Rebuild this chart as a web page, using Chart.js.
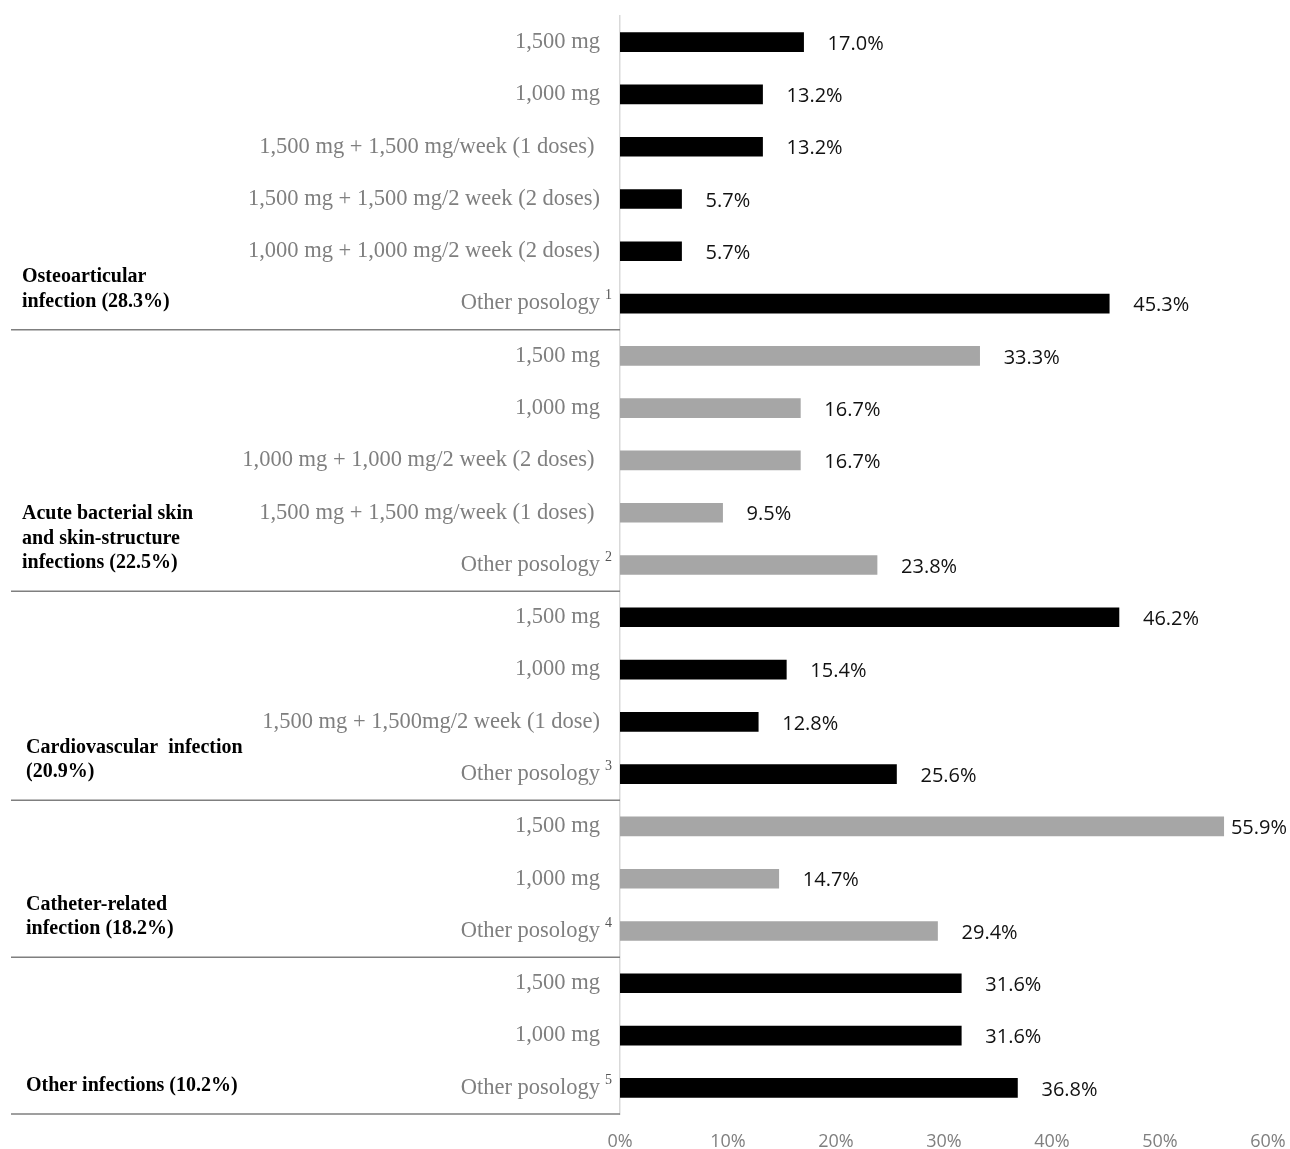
<!DOCTYPE html>
<html>
<head>
<meta charset="utf-8">
<script src="https://cdn.jsdelivr.net/npm/chart.js@4/dist/chart.umd.min.js"></script>
<style>
html, body { margin: 0; padding: 0; background: #fff; }
#wrap { width: 1290px; height: 1149px; }
</style>
</head>
<body>
<div id="wrap"><canvas id="posologyChart"></canvas></div>
<script>
// Infection groups (left column), how many posology rows each has, and bar colour
const groups = [
    ['Osteoarticular', 'infection (28.3%)'],
    ['Acute bacterial skin', 'and skin-structure', 'infections (22.5%)'],
    ['Cardiovascular  infection', '(20.9%)'],
    ['Catheter-related', 'infection (18.2%)'],
    ['Other infections (10.2%)']
];
const groupSizes = [6, 5, 4, 3, 3];
const groupColors = ['#000000', '#a6a6a6', '#000000', '#a6a6a6', '#000000'];

const posologies = [
    '1,500 mg', '1,000 mg', '1,500 mg + 1,500 mg/week (1 doses) ', '1,500 mg + 1,500 mg/2 week (2 doses)',
    '1,000 mg + 1,000 mg/2 week (2 doses)', 'Other posology',
    '1,500 mg', '1,000 mg', '1,000 mg + 1,000 mg/2 week (2 doses) ', '1,500 mg + 1,500 mg/week (1 doses) ',
    'Other posology',
    '1,500 mg', '1,000 mg', '1,500 mg + 1,500mg/2 week (1 dose)', 'Other posology',
    '1,500 mg', '1,000 mg', 'Other posology',
    '1,500 mg', '1,000 mg', 'Other posology'
];
// footnote marks written after "Other posology"
const footnotes = ['1', '2', '3', '4', '5'];
const shares = [
    17.0, 13.2, 13.2, 5.7, 5.7, 45.3,
    33.3, 16.7, 16.7, 9.5, 23.8,
    46.2, 15.4, 12.8, 25.6,
    55.9, 14.7, 29.4,
    31.6, 31.6, 36.8
];
const xTicks = [0, 10, 20, 30, 40, 50, 60];

const barColors = [];
groupSizes.forEach((n, g) => { for (let i = 0; i < n; i++) barColors.push(groupColors[g]); });

// value labels right of each bar
const valueLabels = {
    id: 'valueLabels',
    afterDatasetsDraw(chart) {
        const c = chart.ctx;
        c.save();
        c.font = '20px "Open Sans"';
        c.fillStyle = '#111';
        c.textAlign = 'left';
        c.textBaseline = 'middle';
        chart.getDatasetMeta(0).data.forEach((bar, i) => {
            const txt = shares[i].toFixed(1) + '%';
            const x = Math.min(bar.x + 24, chart.width - c.measureText(txt).width - 3);
            c.fillText(txt, x, bar.y + 2);
        });
        c.restore();
    }
};

// group names, footnote marks and separator lines
const groupLabels = {
    id: 'groupLabels',
    afterDraw(chart) {
        const c = chart.ctx;
        const y = chart.scales.y;
        const area = chart.chartArea;
        c.save();
        let last = -1;
        groupSizes.forEach((n, g) => {
            last += n;
            const sep = last + 1 < shares.length
                ? (y.getPixelForValue(last) + y.getPixelForValue(last + 1)) / 2
                : area.bottom;
            c.strokeStyle = '#7f7f7f';
            c.lineWidth = 1.5;
            c.beginPath();
            c.moveTo(11, sep);
            c.lineTo(area.left, sep);
            c.stroke();

            c.font = '14px "Liberation Serif"';
            c.fillStyle = '#555';
            c.textAlign = 'left';
            c.textBaseline = 'middle';
            c.fillText(footnotes[g], area.left - 15, y.getPixelForValue(last) - 8);

            const lines = groups[g];
            const baseY = y.getPixelForValue(last) - 2;
            c.font = 'bold 20px "Liberation Serif"';
            c.fillStyle = '#000';
            lines.forEach((t, k) => {
                c.fillText(t, g < 2 ? 22 : 26, baseY - (lines.length - 1 - k) * 24.5);
            });
        });
        c.restore();
    }
};

const ctx = document.getElementById('posologyChart').getContext('2d');
const posologyChart = new Chart(ctx, {
    type: 'bar',
    data: {
        labels: posologies,
        datasets: [{
            data: shares,
            backgroundColor: barColors,
            barThickness: 19
        }]
    },
    options: {
        indexAxis: 'y',
        responsive: true,
        maintainAspectRatio: false,
        animation: false,
        layout: { padding: { top: 16, right: 22, left: 0, bottom: 0 } },
        plugins: {
            legend: { display: false },
            tooltip: { enabled: false }
        },
        scales: {
            x: {
                min: 0,
                max: 60,
                afterBuildTicks: s => { s.ticks = xTicks.map(v => ({ value: v })); },
                grid: { display: false, drawTicks: false },
                border: { display: false },
                ticks: {
                    callback: v => v + '%',
                    color: '#7f7f7f',
                    font: { family: 'Open Sans', size: 18 },
                    padding: 17
                },
                afterFit: s => { s.height = 35; s.paddingLeft = 0; s.paddingRight = 0; }
            },
            y: {
                grid: { display: false, drawTicks: false },
                border: { color: '#d9d9d9', width: 1.5 },
                ticks: {
                    color: '#7f7f7f',
                    font: { family: 'Liberation Serif', size: 22.5 },
                    padding: 20,
                    autoSkip: false
                },
                afterFit: s => { s.width = 620; s.paddingTop = 0; s.paddingBottom = 0; }
            }
        }
    },
    plugins: [valueLabels, groupLabels]
});
</script>
</body>
</html>
